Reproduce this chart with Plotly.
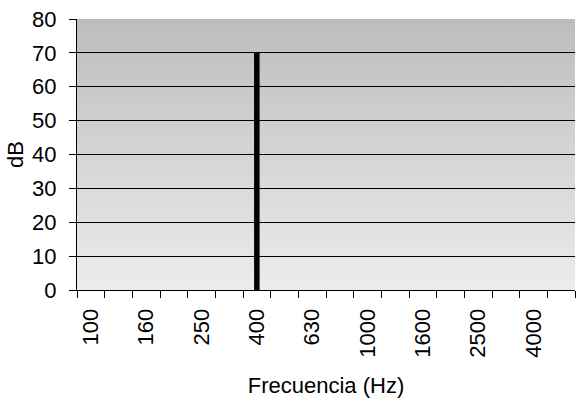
import base64
import plotly.graph_objs as go

freqs = ["100", "125", "160", "200", "250", "315", "400", "500", "630", "800",
         "1000", "1250", "1600", "2000", "2500", "3150", "4000", "5000"]
levels = [0, 0, 0, 0, 0, 0, 70, 0, 0, 0, 0, 0, 0, 0, 0, 0, 0, 0]
tick_labels = [f if i % 2 == 0 else "" for i, f in enumerate(freqs)]
y_ticks = [0, 10, 20, 30, 40, 50, 60, 70, 80]

# gradient background for the plot area (Excel style)
svg = ('<svg xmlns="http://www.w3.org/2000/svg" width="10" height="100" preserveAspectRatio="none">'
       '<defs><linearGradient id="g" x1="0" y1="0" x2="0" y2="1">'
       '<stop offset="0" stop-color="#bdbdbd"/><stop offset="1" stop-color="#ececec"/>'
       '</linearGradient></defs><rect width="10" height="100" fill="url(#g)"/></svg>')
bg = "data:image/svg+xml;base64," + base64.b64encode(svg.encode()).decode()

fig = go.Figure()
fig.add_trace(go.Bar(x=freqs, y=levels, width=0.2, marker_color="black",
                     marker_line_width=0))

font = "Liberation Sans, Arial, sans-serif"
fig.update_layout(
    width=586, height=402,
    margin=dict(l=77, r=11, t=19, b=112),
    paper_bgcolor="white",
    plot_bgcolor="rgba(0,0,0,0)",
    showlegend=False,
    font=dict(family=font, color="black", size=22),
    images=[dict(source=bg, xref="paper", yref="paper", x=0, y=1, sizex=1, sizey=1,
                 sizing="stretch", layer="below")],
    xaxis=dict(
        type="category", tickmode="array", tickvals=freqs, ticktext=tick_labels,
        tickson="boundaries", ticks="outside", ticklen=7, tickcolor="black",
        tickangle=-90, tickfont=dict(size=22), automargin=False, ticklabelstandoff=9,
        showline=True, linecolor="black", linewidth=1, showgrid=False,
        title=dict(text="Frecuencia (Hz)", font=dict(size=22), standoff=20),
    ),
    yaxis=dict(
        range=[0, 80], tickvals=y_ticks, ticks="outside", ticklen=7, tickcolor="black",
        tickfont=dict(size=22), automargin=False, ticklabelstandoff=8,
        ticklabeloverflow="allow",
        showline=True, linecolor="black", linewidth=1,
        showgrid=True, gridcolor="black", gridwidth=1, zeroline=False,
        title=dict(text="dB", font=dict(size=22), standoff=2),
    ),
)

# drop the default 8px body margin so the figure fills the window
fig.write_html("out.html", config={"displayModeBar": False},
               post_script="document.body.style.margin='0px';")
